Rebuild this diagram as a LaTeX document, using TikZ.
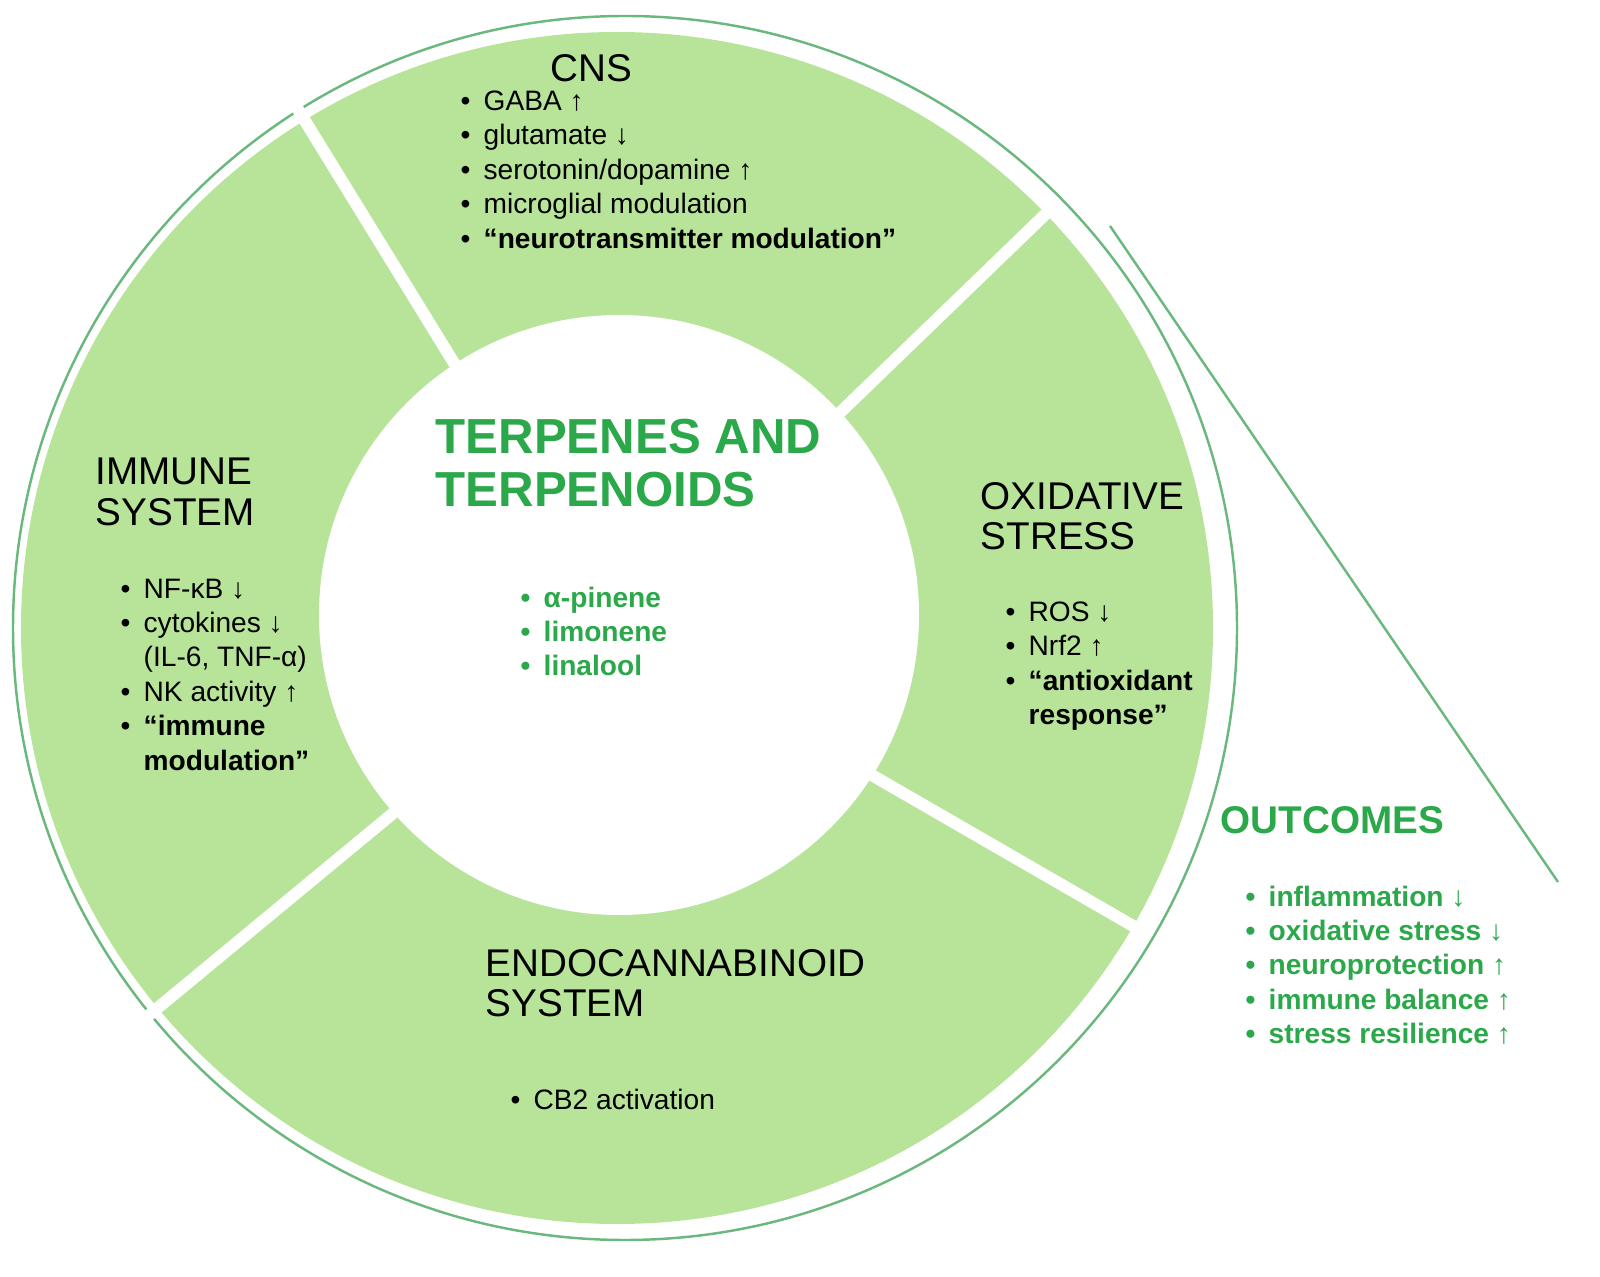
\documentclass[tikz,border=0pt]{standalone}
\usepackage{fontspec}
\setmainfont{Liberation Sans}
\usetikzlibrary{positioning}
\definecolor{ringgreen}{HTML}{B8E49A}
\definecolor{textgreen}{HTML}{2BA84A}
\definecolor{edgegreen}{HTML}{6BB87E}
\tikzset{
  head/.style={anchor=west, align=left, font=\fontsize{11}{11.5}\selectfont, inner sep=0pt},
  items/.style={anchor=north west, align=left, font=\fontsize{8}{9.8}\selectfont, inner sep=0pt},
  sep/.style={white, line width=3.4pt}
}
\newcommand{\bul}{\makebox[0.23cm][l]{\textbullet}}
\newcommand{\nobul}{\makebox[0.23cm][l]{}}
\begin{document}
\begin{tikzpicture}
\useasboundingbox (0,0) rectangle (16,12.76);

% ring and centre
\draw[edgegreen, line width=0.7pt] (6.25,6.48) circle (6.12);
\fill[ringgreen] (6.17,6.48) circle (5.96);
\foreach \ang in {121.6, 44, -30, 219.6}
  \draw[sep] (6.17,6.48) -- ++(\ang:6.1);
\fill[white] (6.19,6.61) circle (3.0);
\draw[edgegreen, line width=0.7pt] (11.1,10.5) -- (15.58,3.94);

% sectors
\node[head] (cns) at (5.5,12.08) {CNS};
\node[items] (cnslist) at (4.6,11.86) {\bul GABA ↑\\ \bul glutamate ↓\\ \bul serotonin/dopamine ↑\\ \bul microglial modulation\\ \bul \textbf{“neurotransmitter modulation”}};

\node[head] (imm) at (0.95,7.84) {IMMUNE\\SYSTEM};
\node[items] (immlist) at (1.2,6.98) {\bul NF-κB ↓\\ \bul cytokines ↓\\ \nobul (IL-6, TNF-α)\\ \bul NK activity ↑\\ \bul \textbf{“immune}\\ \nobul \textbf{modulation”}};

\node[head] (ox) at (9.8,7.6) {OXIDATIVE\\STRESS};
\node[items] (oxlist) at (10.05,6.75) {\bul ROS ↓\\ \bul Nrf2 ↑\\ \bul \textbf{“antioxidant}\\ \nobul \textbf{response”}};

\node[head] (endo) at (4.85,2.93) {ENDOCANNABINOID\\SYSTEM};
\node[items] (endolist) at (5.1,1.88) {\bul CB2 activation};

% centre
\node[anchor=west, align=left, inner sep=0pt, text=textgreen, font=\fontsize{14}{15.2}\selectfont\bfseries] (title) at (4.35,8.13) {TERPENES AND\\TERPENOIDS};
\node[items, text=textgreen, font=\fontsize{8}{9.8}\selectfont\bfseries] (terp) at (5.2,6.9) {\bul α-pinene\\ \bul limonene\\ \bul linalool};

% outcomes
\node[anchor=west, inner sep=0pt, text=textgreen, font=\fontsize{11}{12}\selectfont\bfseries] (out) at (12.2,4.56) {OUTCOMES};
\node[items, text=textgreen, font=\fontsize{8}{9.8}\selectfont\bfseries] (outlist) at (12.45,3.91) {\bul inflammation ↓\\ \bul oxidative stress ↓\\ \bul neuroprotection ↑\\ \bul immune balance ↑\\ \bul stress resilience ↑};
\end{tikzpicture}
\end{document}
